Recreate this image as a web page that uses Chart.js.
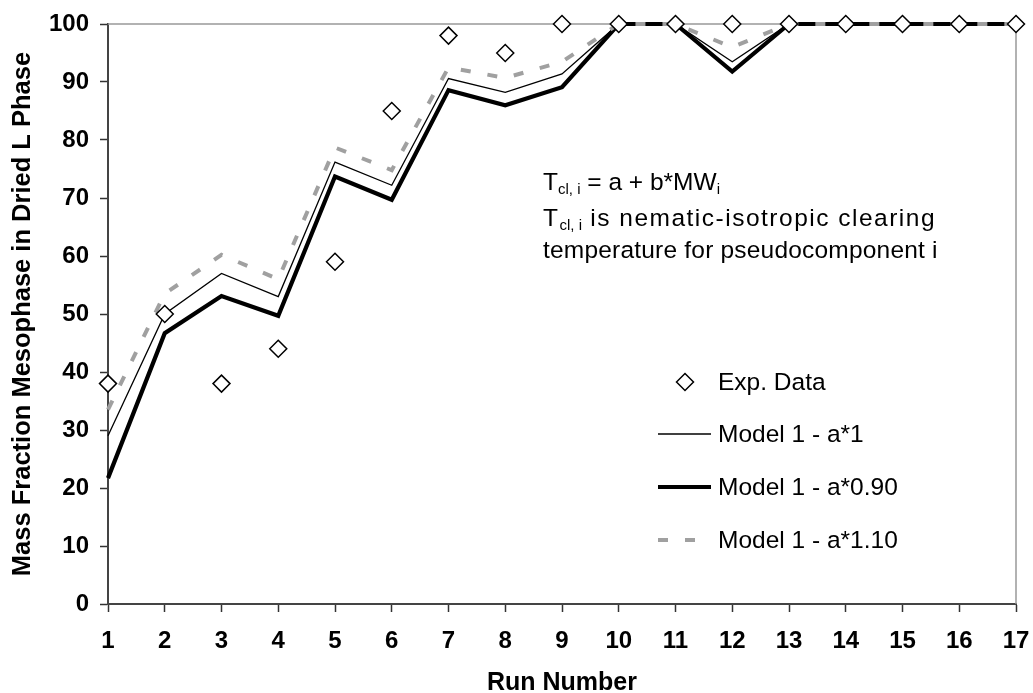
<!DOCTYPE html>
<html lang="en">
<head>
<meta charset="utf-8">
<title>Mass Fraction Mesophase vs Run Number</title>
<script src="https://cdn.jsdelivr.net/npm/chart.js@4.4.1/dist/chart.umd.min.js"></script>
<style>
  html, body { margin: 0; padding: 0; background: #fff; }
  #wrap { width: 1033px; height: 693px; position: relative; }
</style>
</head>
<body>
<div id="wrap"><canvas id="chart"></canvas></div>
<script>
// run numbers on the x axis
var runs = ['1', '2', '3', '4', '5', '6', '7', '8', '9', '10', '11', '12', '13', '14', '15', '16', '17'];

// measured mass fraction (%)
var expData = [38, 50, 38, 44, 59, 85, 98, 95, 100, 100, 100, 100, 100, 100, 100, 100, 100];

// model predictions with the clearing temperature constant a scaled
var modelA100 = [29, 50, 57, 53, 76.2, 72.2, 90.6, 88.2, 91.4, 100, 100, 93.5, 100, 100, 100, 100, 100];
var modelA090 = [21.7, 46.7, 53.1, 49.7, 73.7, 69.7, 88.6, 86, 89.1, 100, 100, 91.8, 100, 100, 100, 100, 100];
var modelA110 = [33.5, 53.5, 60.2, 56, 78.7, 74.8, 92.5, 90.7, 93.5, 100, 100, 96, 100, 100, 100, 100, 100];

var yTicks = [0, 10, 20, 30, 40, 50, 60, 70, 80, 90, 100];

var FONT = '"Liberation Sans", Arial, Helvetica, sans-serif';
var DASH_GREY = '#a0a0a0';

// top and right edge of the plot box
var frame = {
  id: 'frame',
  beforeDatasetsDraw: function (chart) {
    var a = chart.chartArea, ctx = chart.ctx;
    ctx.save();
    ctx.strokeStyle = '#999';
    ctx.lineWidth = 1.5;
    ctx.beginPath();
    ctx.moveTo(a.left, a.top);
    ctx.lineTo(a.right, a.top);
    ctx.lineTo(a.right, a.bottom);
    ctx.stroke();
    ctx.restore();
  }
};

function diamond(ctx, x, y, r) {
  ctx.beginPath();
  ctx.moveTo(x - r, y);
  ctx.lineTo(x, y - r);
  ctx.lineTo(x + r, y);
  ctx.lineTo(x, y + r);
  ctx.closePath();
  ctx.fillStyle = '#fff';
  ctx.fill();
  ctx.lineWidth = 1.5;
  ctx.strokeStyle = '#000';
  ctx.stroke();
}

// text with subscript pieces: parts = [[text, sub], ...]
function richText(ctx, x, y, parts, size, subSize, spacing) {
  parts.forEach(function (p) {
    ctx.font = (p[1] ? subSize : size) + 'px ' + FONT;
    ctx.letterSpacing = (p[1] ? 0 : (spacing || 0)) + 'px';
    ctx.fillText(p[0], x, p[1] ? y + 4 : y);
    x += ctx.measureText(p[0]).width;
  });
  ctx.letterSpacing = '0px';
}

var notes = {
  id: 'notes',
  afterDraw: function (chart) {
    var ctx = chart.ctx;
    ctx.save();
    ctx.fillStyle = '#000';
    ctx.textBaseline = 'alphabetic';
    ctx.textAlign = 'left';
    richText(ctx, 543, 190, [['T', 0], ['cl, i', 1], [' = a + b*MW', 0], ['i', 1]], 24.5, 15);
    richText(ctx, 543, 226, [['T', 0], ['cl, i', 1], [' is nematic-isotropic clearing', 0]], 24.5, 15, 1.5);
    richText(ctx, 543, 258, [['temperature for pseudocomponent i', 0]], 24.5, 15, 0.2);
    ctx.restore();
  }
};

// legend box in the lower right of the plot
var keyBox = {
  id: 'keyBox',
  afterDraw: function (chart) {
    var ctx = chart.ctx;
    var sets = chart.data.datasets;
    var rows = [390, 442, 495, 548];
    var x0 = 658, x1 = 711, tx = 718;
    ctx.save();
    sets.forEach(function (ds, i) {
      var yMid = rows[i] - 8;
      if (ds.showLine === false) {
        diamond(ctx, 685, yMid, ds.pointRadius);
      } else {
        ctx.beginPath();
        ctx.setLineDash(ds.borderDash || []);
        ctx.lineWidth = ds.borderWidth;
        ctx.strokeStyle = ds.borderColor;
        ctx.moveTo(x0, yMid);
        ctx.lineTo(x1, yMid);
        ctx.stroke();
        ctx.setLineDash([]);
      }
      ctx.fillStyle = '#000';
      ctx.font = '24.5px ' + FONT;
      ctx.textBaseline = 'alphabetic';
      ctx.fillText(ds.label, tx, rows[i]);
    });
    ctx.restore();
  }
};

new Chart(document.getElementById('chart'), {
  type: 'line',
  data: {
    labels: runs,
    datasets: [
      {
        label: 'Exp. Data',
        data: expData,
        showLine: false,
        pointStyle: 'rectRot',
        pointRadius: 8.5,
        pointBackgroundColor: '#fff',
        pointBorderColor: '#000',
        pointBorderWidth: 1.5,
        borderColor: '#000',
        clip: false,
        order: 0
      },
      {
        label: 'Model 1 - a*1',
        data: modelA100,
        borderColor: '#000',
        borderWidth: 1.3,
        pointRadius: 0,
        tension: 0,
        clip: false,
        order: 3
      },
      {
        label: 'Model 1 - a*0.90',
        data: modelA090,
        borderColor: '#000',
        borderWidth: 4.2,
        pointRadius: 0,
        tension: 0,
        clip: false,
        order: 2
      },
      {
        label: 'Model 1 - a*1.10',
        data: modelA110,
        borderColor: DASH_GREY,
        borderWidth: 4,
        borderDash: [10, 17],
        pointRadius: 0,
        tension: 0,
        clip: false,
        order: 1
      }
    ]
  },
  options: {
    responsive: true,
    maintainAspectRatio: false,
    animation: false,
    layout: { padding: { top: 24, right: 17, bottom: 0, left: 0 } },
    plugins: {
      legend: { display: false },
      tooltip: { enabled: false }
    },
    scales: {
      x: {
        type: 'category',
        offset: false,
        grid: { drawOnChartArea: false, tickLength: 8, tickColor: '#333', tickWidth: 1.5 },
        border: { color: '#444', width: 2 },
        ticks: {
          color: '#000',
          padding: 15,
          maxRotation: 0,
          autoSkip: false,
          font: { family: FONT, size: 24, weight: 'bold' }
        },
        title: {
          display: true,
          text: 'Run Number',
          color: '#000',
          padding: 0,
          font: { family: FONT, size: 25, weight: 'bold', lineHeight: 0.8 }
        },
        afterFit: function (s) {
          s.height = 89;
          s.paddingLeft = 0;
          s.paddingRight = 0;
        }
      },
      y: {
        min: 0,
        max: 100,
        afterBuildTicks: function (s) { s.ticks = yTicks.map(function (v) { return { value: v }; }); },
        grid: { drawOnChartArea: false, tickLength: 8, tickColor: '#333', tickWidth: 1.5 },
        border: { color: '#444', width: 2 },
        ticks: {
          color: '#000',
          padding: 11,
          font: { family: FONT, size: 24, weight: 'bold' }
        },
        title: {
          display: true,
          text: 'Mass Fraction Mesophase in Dried L Phase',
          color: '#000',
          padding: { top: 8, bottom: 0 },
          font: { family: FONT, size: 25.5, weight: 'bold' }
        },
        afterFit: function (s) {
          s.width = 108;
          s.paddingTop = 0;
          s.paddingBottom = 0;
        }
      }
    }
  },
  plugins: [frame, notes, keyBox]
});
</script>
</body>
</html>
